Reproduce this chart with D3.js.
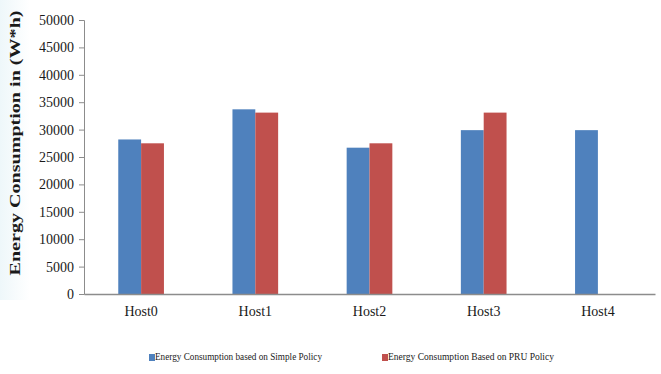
<!DOCTYPE html>
<html>
<head>
<meta charset="utf-8">
<script src="https://cdn.jsdelivr.net/npm/d3@7"></script>
<style>
  html, body { margin: 0; padding: 0; background: #fff; }
  svg { display: block; }
  text { font-family: "Liberation Serif", "Times New Roman", serif; }
</style>
</head>
<body>
<svg id="chart" width="661" height="374"></svg>
<script>
// Hosts and the energy drawn by each allocation policy (W*h)
const hosts = ["Host0", "Host1", "Host2", "Host3", "Host4"];
const simplePolicy = [28200, 33700, 26700, 29900, 29900];
const pruPolicy = [27500, 33100, 27500, 33100, null];
const seriesNames = ["Energy Consumption based on Simple Policy", "Energy Consumption Based on PRU Policy"];
const seriesColors = ["#4F81BD", "#C0504D"];
const yTicks = [0, 5000, 10000, 15000, 20000, 25000, 30000, 35000, 40000, 45000, 50000];

const svg = d3.select("#chart");
const W = 661, H = 374;
const margin = { left: 84, right: 6, top: 20, bottom: 80 };
const plotW = W - margin.left - margin.right;
const plotH = H - margin.top - margin.bottom;

// faint tinted wash along the left edge
const defs = svg.append("defs");
const grad = defs.append("linearGradient").attr("id", "leftWash").attr("x1", 0).attr("x2", 1).attr("y1", 0).attr("y2", 0);
grad.append("stop").attr("offset", "0%").attr("stop-color", "#eef7fa");
grad.append("stop").attr("offset", "100%").attr("stop-color", "#ffffff");
svg.append("rect").attr("x", 0).attr("y", 0).attr("width", 30).attr("height", 300).attr("fill", "url(#leftWash)");

const g = svg.append("g").attr("transform", `translate(${margin.left},${margin.top})`);

const x = d3.scaleBand().domain(hosts).range([0, plotW]).paddingInner(0.6).paddingOuter(0.3);
const xInner = d3.scaleBand().domain([0, 1]).range([0, x.bandwidth()]);
const y = d3.scaleLinear().domain([0, 50000]).range([plotH, 0]);

// bars
const rows = hosts.map((h, i) => ({ host: h, values: [simplePolicy[i], pruPolicy[i]] }));
const groups = g.selectAll(".grp").data(rows).join("g")
  .attr("class", "grp")
  .attr("transform", d => `translate(${x(d.host)},0)`);
groups.selectAll("rect")
  .data(d => d.values.map((v, k) => ({ v, k })).filter(d => d.v != null))
  .join("rect")
  .attr("x", d => xInner(d.k))
  .attr("width", xInner.bandwidth())
  .attr("y", d => y(d.v))
  .attr("height", d => plotH - y(d.v))
  .attr("fill", d => seriesColors[d.k]);

// y axis
const yAxis = g.append("g")
  .call(d3.axisLeft(y).tickValues(yTicks).tickSize(5).tickPadding(5).tickFormat(d3.format("d")));
yAxis.select(".domain").attr("stroke", "#8c8c8c");
yAxis.selectAll(".tick line").attr("stroke", "#8c8c8c");
yAxis.selectAll(".tick text").attr("font-size", 14).attr("fill", "#1a1a1a");

// x axis
const xAxis = g.append("g")
  .attr("transform", `translate(0,${plotH})`)
  .call(d3.axisBottom(x).tickSize(0).tickPadding(12));
xAxis.select(".domain").attr("stroke", "#8c8c8c").attr("stroke-width", 1.5);
xAxis.selectAll(".tick text").attr("font-size", 14).attr("fill", "#1a1a1a");

// y axis title
svg.append("text")
  .attr("transform", "translate(20,143) rotate(-90)")
  .attr("text-anchor", "middle")
  .attr("font-size", 14)
  .attr("font-weight", "bold")
  .attr("fill", "#1a1a1a")
  .attr("textLength", 265)
  .attr("lengthAdjust", "spacingAndGlyphs")
  .text("Energy Consumption in (W*h)");

// legend
const legendX = [149, 382];
const legend = svg.selectAll(".leg").data(seriesNames).join("g")
  .attr("class", "leg")
  .attr("transform", (d, i) => `translate(${legendX[i]},357)`);
legend.append("rect")
  .attr("x", 0).attr("y", -3).attr("width", 6).attr("height", 7)
  .attr("fill", (d, i) => seriesColors[i]);
legend.append("text")
  .attr("x", 6).attr("y", 3)
  .attr("font-size", 9.5)
  .attr("fill", "#1a1a1a")
  .attr("textLength", (d, i) => i === 0 ? 167 : 166)
  .attr("lengthAdjust", "spacingAndGlyphs")
  .text(d => d);
</script>
</body>
</html>
